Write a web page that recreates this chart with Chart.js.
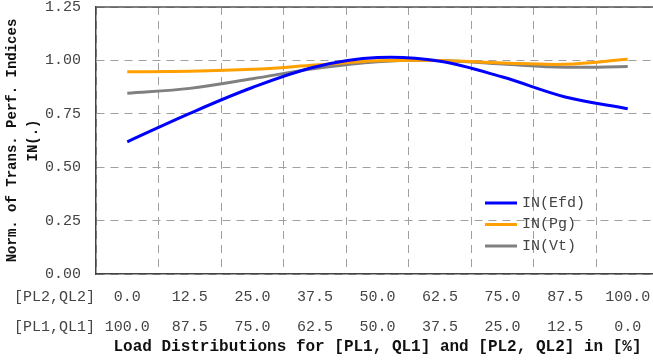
<!DOCTYPE html>
<html>
<head>
<meta charset="utf-8">
<script src="https://cdn.jsdelivr.net/npm/chart.js@4.4.0/dist/chart.umd.min.js"></script>
<style>
  html, body { margin: 0; padding: 0; background: #fff; overflow: hidden; }
  #wrap { width: 660px; height: 360px; position: relative; }
</style>
</head>
<body>
<div id="wrap"><canvas id="chart"></canvas></div>
<script>
// load share of [PL2,QL2] and [PL1,QL1] in %
const pl2Labels = ['0.0', '12.5', '25.0', '37.5', '50.0', '62.5', '75.0', '87.5', '100.0'];
const pl1Labels = ['100.0', '87.5', '75.0', '62.5', '50.0', '37.5', '25.0', '12.5', '0.0'];

// normalized indices
const inEfd = [0.619, 0.752, 0.873, 0.969, 1.013, 0.996, 0.922, 0.829, 0.774];
const inPg  = [0.947, 0.949, 0.958, 0.978, 0.998, 1.000, 0.988, 0.982, 1.005];
const inVt  = [0.846, 0.869, 0.914, 0.962, 0.994, 1.000, 0.983, 0.968, 0.971];

const FONT = "'Courier New', 'Liberation Mono', monospace";

const frameLines = {
    id: 'frameLines',
    afterDraw(chart) {
        const { ctx, chartArea } = chart;
        ctx.save();
        // solid top edge
        ctx.strokeStyle = '#555';
        ctx.lineWidth = 1.5;
        ctx.beginPath();
        ctx.moveTo(chartArea.left, chartArea.top);
        ctx.lineTo(chartArea.right, chartArea.top);
        ctx.stroke();

        // row headers for the two label rows
        ctx.font = '15px ' + FONT;
        ctx.fillStyle = '#444';
        ctx.textAlign = 'left';
        ctx.textBaseline = 'middle';
        ctx.fillText('[PL2,QL2]', 14, 297);
        ctx.fillText('[PL1,QL1]', 14, 327);
        ctx.restore();
    }
};

const insideLegend = {
    id: 'insideLegend',
    afterDraw(chart) {
        const { ctx, chartArea } = chart;
        const x0 = chartArea.left + 389;
        let y = 203;
        ctx.save();
        ctx.font = '15px ' + FONT;
        ctx.textAlign = 'left';
        ctx.textBaseline = 'middle';
        chart.data.datasets.forEach(ds => {
            ctx.strokeStyle = ds.borderColor;
            ctx.lineWidth = 3;
            ctx.beginPath();
            ctx.moveTo(x0, y);
            ctx.lineTo(x0 + 32, y);
            ctx.stroke();
            ctx.fillStyle = '#444';
            ctx.fillText(ds.label, x0 + 37, y);
            y += 21.5;
        });
        ctx.restore();
    }
};

const gridOpts = {
    color: '#a0a0a0',
    lineWidth: 1,
    drawTicks: false
};

new Chart(document.getElementById('chart'), {
    type: 'line',
    data: {
        labels: pl2Labels.map((l, i) => [l, pl1Labels[i]]),
        datasets: [
            { label: 'IN(Efd)', data: inEfd, borderColor: '#0000ff' },
            { label: 'IN(Pg)', data: inPg, borderColor: '#ffa000' },
            { label: 'IN(Vt)', data: inVt, borderColor: '#808080' }
        ]
    },
    options: {
        responsive: true,
        maintainAspectRatio: false,
        animation: false,
        layout: { padding: { top: 7, right: 1, left: 0, bottom: 0 } },
        elements: {
            line: { borderWidth: 3, tension: 0.35, fill: false },
            point: { radius: 0 }
        },
        plugins: {
            legend: { display: false },
            tooltip: { enabled: false }
        },
        scales: {
            x: {
                offset: true,
                grid: Object.assign({ offset: true }, gridOpts),
                border: { color: '#444', width: 1.5, dash: [8, 6] },
                ticks: {
                    font: { family: FONT, size: 15, lineHeight: 2 },
                    color: '#444',
                    padding: 8,
                    maxRotation: 0
                },
                title: {
                    display: true,
                    text: 'Load Distributions for [PL1, QL1] and [PL2, QL2] in [%]',
                    font: { family: FONT, size: 16, weight: 'bold' },
                    color: '#111',
                    padding: { top: 0, bottom: 3 }
                },
                afterFit(scale) {
                    scale.height = 86;
                    scale.paddingLeft = 0;
                    scale.paddingRight = 0;
                }
            },
            y: {
                min: 0,
                max: 1.25,
                ticks: {
                    stepSize: 0.25,
                    font: { family: FONT, size: 15 },
                    color: '#444',
                    padding: 15,
                    callback: v => v.toFixed(2)
                },
                grid: gridOpts,
                border: { color: '#444', width: 1.5, dash: [8, 6] },
                title: {
                    display: true,
                    text: ['Norm. of Trans. Perf. Indices', 'IN(.)'],
                    font: { family: FONT, size: 14, weight: 'bold', lineHeight: 1.5 },
                    color: '#111',
                    padding: { top: 2, bottom: 0 }
                },
                afterFit(scale) {
                    scale.width = 96;
                    scale.paddingTop = 0;
                    scale.paddingBottom = 0;
                }
            }
        }
    },
    plugins: [frameLines, insideLegend]
});
</script>
</body>
</html>
